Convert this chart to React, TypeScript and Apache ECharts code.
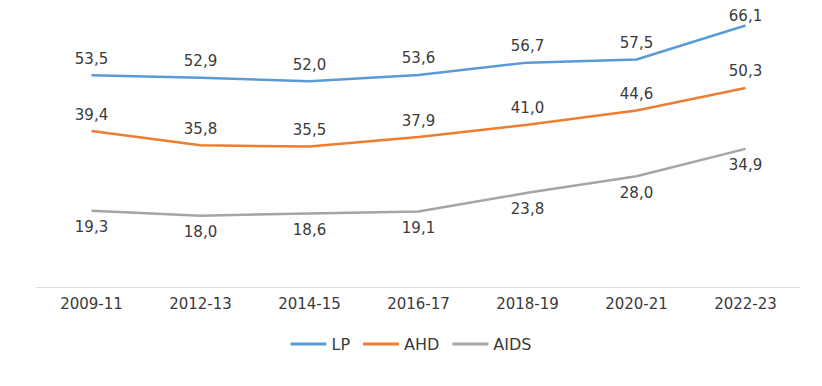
import React, { useEffect, useRef } from "react";
import * as echarts from "echarts";

const categories = ["2009-11", "2012-13", "2014-15", "2016-17", "2018-19", "2020-21", "2022-23"];
const lpValues = [53.5, 52.9, 52.0, 53.6, 56.7, 57.5, 66.1];
const ahdValues = [39.4, 35.8, 35.5, 37.9, 41.0, 44.6, 50.3];
const aidsValues = [19.3, 18.0, 18.6, 19.1, 23.8, 28.0, 34.9];

const fmt = (p: any) => Number(p.value).toFixed(1).replace(".", ",");

export default function App() {
  const ref = useRef<HTMLDivElement>(null);
  useEffect(() => {
    if (!ref.current) return;
    const chart = echarts.init(ref.current, undefined, { renderer: "svg" });
    const font = "DejaVu Sans, Liberation Sans, Arial, sans-serif";
    const mk = (name: string, data: number[], color: string, pos: string, tightLast = false) => ({
      name,
      type: "line",
      data: data.map((v, i) =>
        tightLast && i === data.length - 1 ? { value: v, label: { distance: 2 } } : v
      ),
      symbol: "circle",
      symbolSize: 0,
      showSymbol: true,
      lineStyle: { color, width: 2.5 },
      itemStyle: { color },
      label: {
        show: true,
        position: pos,
        distance: 9,
        formatter: fmt,
        color: "#3a3a3a",
        fontSize: 15,
        fontFamily: font,
      },
    });
    chart.setOption({
      animation: false,
      textStyle: { fontFamily: font },
      grid: { left: 37, right: 22, top: 10, bottom: 99 },
      xAxis: {
        type: "category",
        data: categories,
        boundaryGap: true,
        axisLine: { lineStyle: { color: "#D9D9D9", width: 1 } },
        axisTick: { show: false },
        axisLabel: { color: "#3a3a3a", fontSize: 15, margin: 9, fontFamily: font },
      },
      yAxis: {
        type: "value",
        min: 0,
        max: 70,
        show: false,
        splitLine: { show: false },
      },
      legend: {
        top: 331,
        left: "center",
        icon: "rect",
        itemWidth: 36,
        itemHeight: 3,
        itemGap: 13,
        textStyle: { color: "#3a3a3a", fontSize: 16, fontFamily: font },
        data: ["LP", "AHD", "AIDS"],
      },
      series: [
        mk("LP", lpValues, "#5B9BD5", "top", true),
        mk("AHD", ahdValues, "#ED7D31", "top"),
        mk("AIDS", aidsValues, "#A5A5A5", "bottom"),
      ],
    });
    return () => chart.dispose();
  }, []);
  return <div ref={ref} style={{ width: 822, height: 386, position: "absolute", left: 0, top: 0 }} />;
}
